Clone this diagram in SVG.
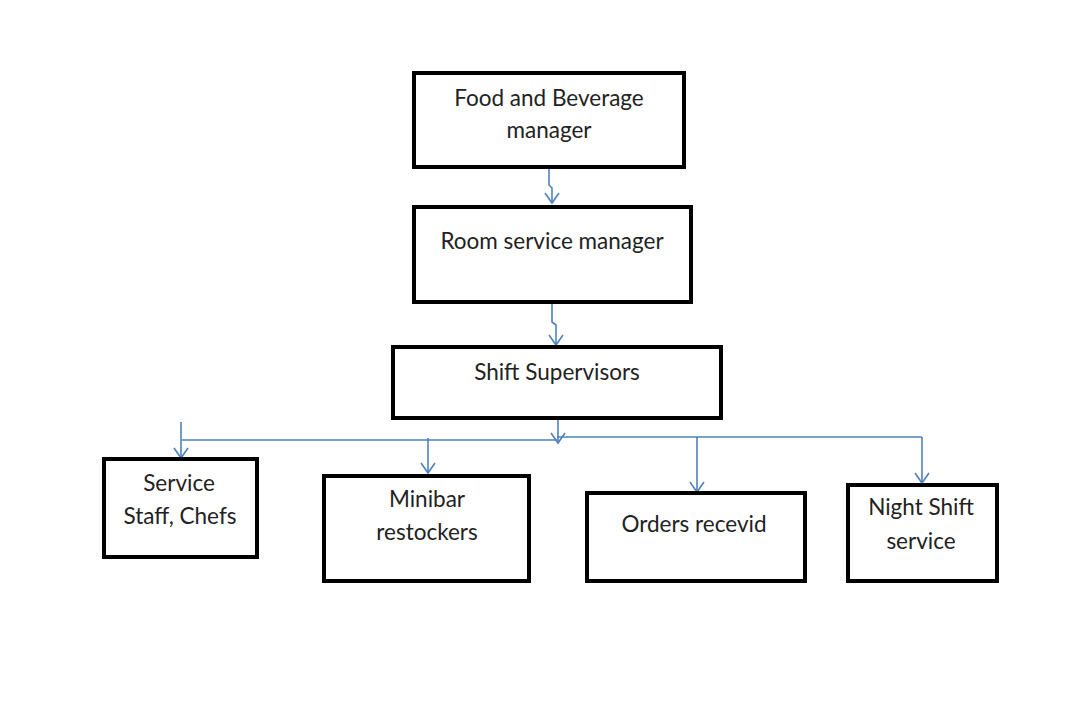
<svg xmlns="http://www.w3.org/2000/svg" width="1080" height="727" viewBox="0 0 1080 727">
<style>
.box{fill:#fff;stroke:#000;stroke-width:4}
.t{font-family:Lato,"Open Sans",sans-serif;font-size:22.5px;fill:#222;text-anchor:middle}
.c{fill:none;stroke:#4f81bd;stroke-width:1.6}
.h{fill:none;stroke:#4f81bd;stroke-width:1.6}
</style>
<rect width="1080" height="727" fill="#fff"/>
<g id="connectors">
<path class="c" d="M549 167 V185 L552 188 V203"/>
<path class="h" d="M545 193 L552 203 L559 193"/>
<path class="c" d="M552 302 V322 L556 325 V345"/>
<path class="h" d="M549 335 L556 345 L563 335"/>
<path class="c" d="M558 418 V443"/>
<path class="h" d="M551 433 L558 443 L565 433"/>
<path class="c" d="M182 440 H557 M557 437 H922"/>
<path class="c" d="M181 422 V458"/>
<path class="h" d="M174 448 L181 458 L188 448"/>
<path class="c" d="M428 438 V473"/>
<path class="h" d="M421 463 L428 473 L435 463"/>
<path class="c" d="M697 437 V492"/>
<path class="h" d="M690 482 L697 492 L704 482"/>
<path class="c" d="M922 437 V483"/>
<path class="h" d="M915 473 L922 483 L929 473"/>
</g>
<g id="n1"><rect class="box" x="414" y="73" width="270" height="94"/><text class="t" x="549" y="106">Food and Beverage</text><text class="t" x="549" y="138">manager</text></g>
<g id="n2"><rect class="box" x="414" y="207" width="277" height="95"/><text class="t" x="552" y="249">Room service manager</text></g>
<g id="n3"><rect class="box" x="393" y="347" width="328" height="71"/><text class="t" x="557" y="380">Shift Supervisors</text></g>
<g id="n4"><rect class="box" x="104" y="459" width="153" height="98"/><text class="t" x="179" y="491">Service</text><text class="t" x="180" y="524">Staff, Chefs</text></g>
<g id="n5"><rect class="box" x="324" y="476" width="205" height="105"/><text class="t" x="427" y="507">Minibar</text><text class="t" x="427" y="540">restockers</text></g>
<g id="n6"><rect class="box" x="587" y="493" width="218" height="88"/><text class="t" x="694" y="532">Orders recevid</text></g>
<g id="n7"><rect class="box" x="848" y="485" width="149" height="96"/><text class="t" x="921" y="515">Night Shift</text><text class="t" x="921" y="549">service</text></g>
</svg>
